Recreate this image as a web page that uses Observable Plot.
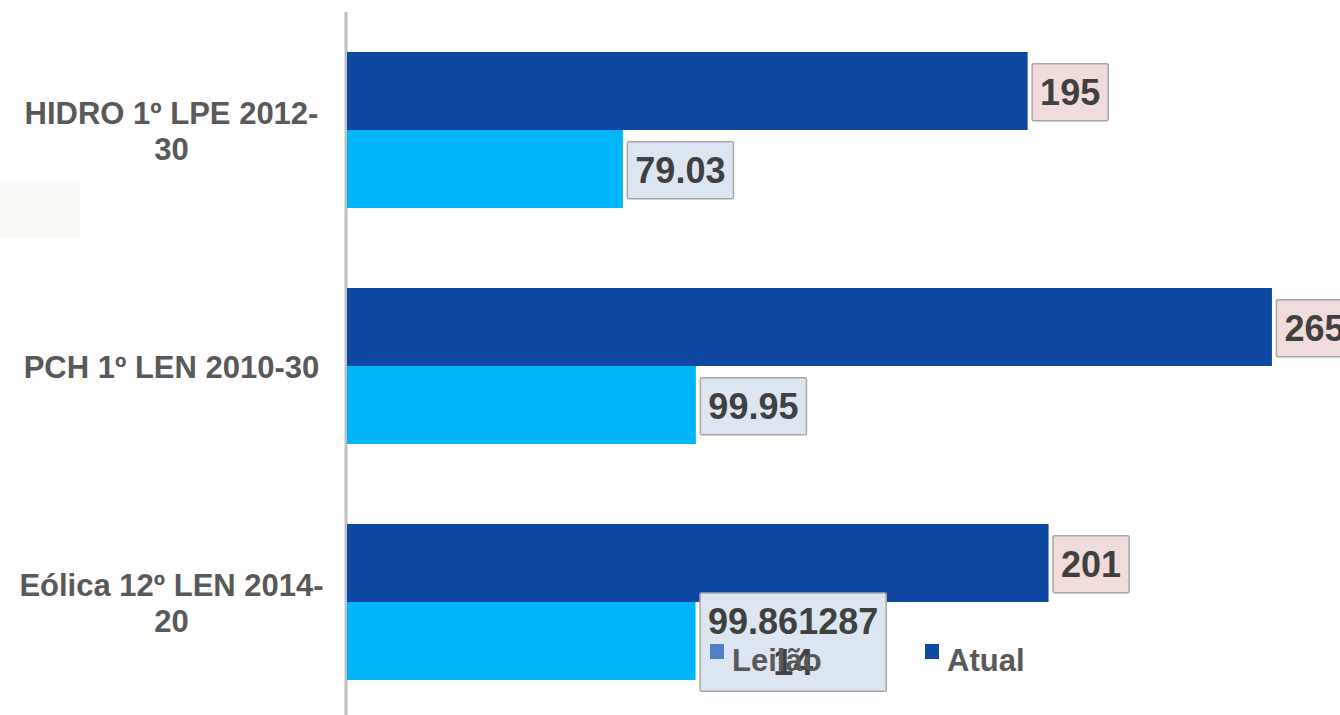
<!DOCTYPE html>
<html>
<head>
<meta charset="utf-8">
<script src="https://cdn.jsdelivr.net/npm/d3@7"></script>
<script src="https://cdn.jsdelivr.net/npm/@observablehq/plot@0.6"></script>
<style>
  html, body { margin: 0; padding: 0; background: #fff; overflow: hidden; }
  #wrap { position: relative; width: 1340px; height: 715px; font-family: "Liberation Sans", Arial, sans-serif; }
  #wrap svg { position: absolute; left: 0; top: 0; }
  .faint { position: absolute; left: 0; top: 183px; width: 80px; height: 55px; background: #faf9f6; }
  .lg-sw { position: absolute; width: 14px; height: 15px; }
  .lg-tx { position: absolute; font-size: 31px; font-weight: bold; color: #595959; line-height: 1; }
</style>
</head>
<body>
<div id="wrap"><div class="faint"></div></div>
<script>
const categories = ["HIDRO 1º LPE 2012-30", "PCH 1º LEN 2010-30", "Eólica 12º LEN 2014-20"];
const categoryLabels = ["HIDRO 1º LPE 2012-\n30", "PCH 1º LEN 2010-30", "Eólica 12º LEN 2014-\n20"];
const series = ["Atual", "Leilão"];
const seriesColors = ["#0f48a2", "#00b5f8"];
const legendColors = ["#0f48a2", "#4f7fc6"];
const atual = [195, 265, 201];
const atualLabels = ["195", "265", "201"];
const leilao = [79.03, 99.95, 99.86128714];
const leilaoLabels = ["79.03", "99.95", "99.861287\n14"];

const rows = categories.flatMap((c, i) => [
  {category: c, series: "Atual", value: atual[i], label: atualLabels[i]},
  {category: c, series: "Leilão", value: leilao[i], label: leilaoLabels[i]}
]);
const labelText = new Map(categories.map((c, i) => [c, categoryLabels[i]]));

const font = "Liberation Sans, Arial, sans-serif";
const chart = Plot.plot({
  width: 1340,
  height: 720,
  marginLeft: 347,
  marginRight: 0,
  marginTop: 12,
  marginBottom: 0,
  style: {fontFamily: font, background: "transparent", overflow: "visible"},
  x: {domain: [0, 284.5], axis: null},
  y: {domain: series, paddingInner: 0, paddingOuter: 0.5, axis: null},
  fy: {domain: categories, padding: 0, axis: null},
  color: {domain: series, range: seriesColors},
  marks: [
    Plot.ruleX([0], {stroke: "#c0c0c0", strokeWidth: 3, dx: -1.5}),
    Plot.barX(rows, {x: "value", y: "series", fy: "category", fill: "series"}),
    Plot.text(rows.filter(d => d.series === "Atual"), {
      x: "value", y: "series", fy: "category", text: "label",
      textAnchor: "start", lineAnchor: "middle", dx: 12,
      fontSize: 36, fontWeight: "bold", fill: "#404040", lineHeight: 1.14,
      className: "lab-atual"
    }),
    Plot.text(rows.filter(d => d.series === "Leilão"), {
      x: "value", y: "series", fy: "category", text: "label",
      textAnchor: "start", lineAnchor: "middle", dx: 12,
      fontSize: 36, fontWeight: "bold", fill: "#404040", lineHeight: 1.14,
      className: "lab-leilao"
    }),
    Plot.text(categories, {
      fy: d => d, text: d => labelText.get(d),
      frameAnchor: "left", dx: -176, textAnchor: "middle", lineAnchor: "middle",
      fontSize: 31, fontWeight: "bold", fill: "#595959", lineHeight: 1.15
    })
  ]
});

const wrap = document.getElementById("wrap");
wrap.appendChild(chart);

function boxes(cls, fill) {
  chart.querySelectorAll(`g.${cls} text`).forEach(t => {
    let b = t.getBBox();
    if (t.querySelectorAll("tspan").length > 1) {
      const w = b.width;
      t.setAttribute("text-anchor", "middle");
      t.setAttribute("transform", (t.getAttribute("transform") || "") + ` translate(${w / 2},0)`);
      b = t.getBBox();
    }
    const padX = 8, padY = 8;
    const r = document.createElementNS("http://www.w3.org/2000/svg", "rect");
    r.setAttribute("x", b.x - padX);
    r.setAttribute("y", b.y - padY);
    r.setAttribute("width", b.width + 2 * padX);
    r.setAttribute("height", b.height + 2 * padY);
    r.setAttribute("fill", fill);
    r.setAttribute("stroke", "#a6a6a6");
    r.setAttribute("stroke-width", 1.5);
    r.setAttribute("rx", 1.5);
    const tr = t.getAttribute("transform");
    if (tr) r.setAttribute("transform", tr);
    t.parentNode.insertBefore(r, t);
  });
}
boxes("lab-atual", "#f2dcdb");
boxes("lab-leilao", "#dce6f2");

// legend overlaid inside the chart area
const legendItems = [
  {name: series[1], color: legendColors[1], sx: 710, tx: 732},
  {name: series[0], color: legendColors[0], sx: 925, tx: 947}
];
legendItems.forEach(it => {
  const sw = document.createElement("div");
  sw.className = "lg-sw";
  sw.style.left = it.sx + "px";
  sw.style.top = "644px";
  sw.style.background = it.color;
  wrap.appendChild(sw);
  const tx = document.createElement("div");
  tx.className = "lg-tx";
  tx.style.left = it.tx + "px";
  tx.style.top = "645px";
  tx.textContent = it.name;
  wrap.appendChild(tx);
});
</script>
</body>
</html>
